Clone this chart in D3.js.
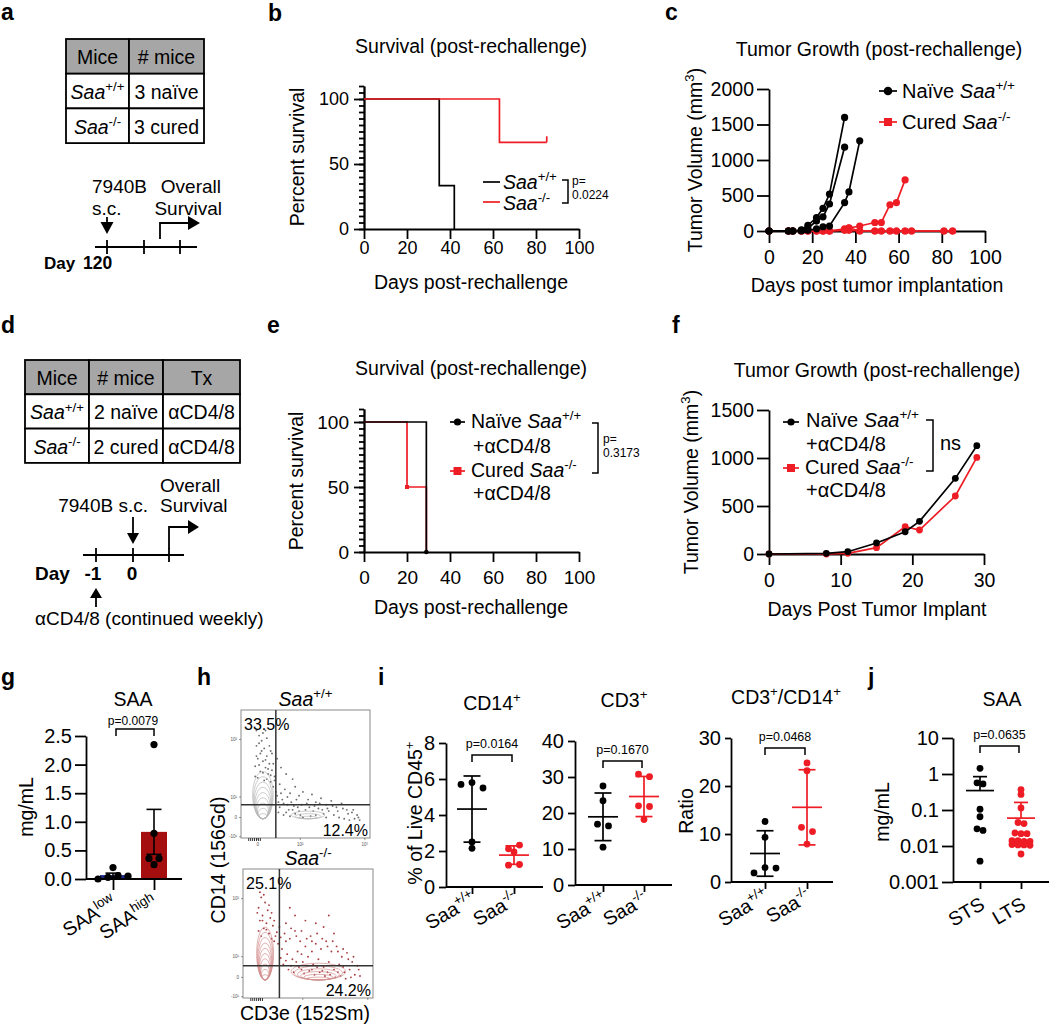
<!doctype html>
<html lang="en">
<head>
<meta charset="utf-8">
<title>SAA rechallenge figure</title>
<script src="https://cdn.jsdelivr.net/npm/d3@7"></script>
<style>
  body { margin: 0; background: #fff; }
  svg text { font-family: 'Liberation Sans', Arial, Helvetica, sans-serif; fill: #000; }
</style>
</head>
<body>
<svg id="fig" width="1050" height="1025"></svg>
<script>
// ---------------- data ----------------
const WT = [["Saa", "i"], ["+/+", "s"]];
const KO = [["Saa", "i"], ["-/-", "s"]];

// a, d: cohort tables
const tableA = [["Mice", "# mice"], [WT, "3 naïve"], [KO, "3 cured"]];
const tableD = [["Mice", "# mice", "Tx"], [WT, "2 naïve", "αCD4/8"], [KO, "2 cured", "αCD4/8"]];

// b: Kaplan-Meier steps (day, percent surviving)
const survDaysB_WT = [0, 35, 42];
const survPctB_WT = [100, 33.3, 0];
const survDaysB_KO = [0, 63, 85];
const survPctB_KO = [100, 66.7, 66.7];

// e
const survDaysE_WT = [0, 29];
const survPctE_WT = [100, 0];
const survDaysE_KO = [0, 20, 29];
const survPctE_KO = [100, 50, 0];

// c: individual tumour growth curves
const tumDaysC_WT = [
  [0, 9, 11, 15, 18, 22, 25, 28, 35],
  [0, 9, 11, 15, 18, 22, 25, 28, 35],
  [0, 9, 11, 15, 18, 22, 25, 28, 35, 37, 42]
];
const tumVolC_WT = [
  [0, 0, 0, 15, 80, 190, 320, 520, 1600],
  [0, 0, 0, 8, 40, 140, 200, 380, 1180],
  [0, 0, 0, 0, 10, 30, 60, 70, 400, 550, 1270]
];
const tumDaysC_KO = [
  [0, 9, 11, 15, 18, 22, 25, 28, 35, 37, 42, 49, 52, 56, 59, 63],
  [0, 9, 11, 15, 18, 22, 25, 28, 35, 37, 42, 49, 52, 56, 59, 63, 66, 81, 85],
  [0, 9, 11, 15, 18, 22, 25, 28, 35, 37, 42, 49, 52, 56, 59, 63, 66, 81, 85]
];
const tumVolC_KO = [
  [0, 0, 0, 0, 0, 0, 0, 0, 20, 40, 70, 120, 120, 370, 400, 720],
  [0, 0, 0, 0, 0, 0, 0, 0, 10, 10, 0, 0, 0, 0, 0, 0, 0, 0, 0],
  [0, 0, 0, 0, 0, 0, 0, 0, 30, 45, 0, 0, 0, 0, 0, 0, 0, 0, 0]
];

// f: mean tumour growth
const tumDaysF = [0, 8, 11, 15, 19, 21, 26, 29];
const tumVolF_WT = [0, 7, 24, 115, 232, 340, 788, 1128];
const tumVolF_KO = [0, 0, 7, 66, 284, 250, 604, 1006];

// g: serum SAA (mg/mL)
const gCats = ["low", "high"];
const saaLow = [0.2, 0.0, 0.03, 0.06, 0.05];
const saaHigh = [2.35, 0.8, 0.36, 0.36, 0.25];

// h: CyTOF plots, channel units 0-100 (biexponential display)
const hGates = [[27, 26], [28, 25]];
const hPercents = [["33.5%", "12.4%"], ["25.1%", "24.2%"]];
// populations drawn as nested contours: [panel, centre x, base y, half width, height, levels]
const hPops = [
  [0, 17, 15, 8, 37, 9],
  [0, 52, 15, 13, 6, 3],
  [1, 17, 14, 6.5, 41, 10],
  [1, 58, 14, 21, 13, 6]
];
const hEventsWT = [
  [14, 80], [16, 76], [12, 72], [18, 70], [15, 66], [20, 64], [13, 62], [17, 60], [22, 58], [11, 56],
  [19, 55], [24, 53], [15, 52], [21, 50], [26, 48], [13, 47], [18, 45], [23, 44], [25, 40], [27, 36],
  [30, 42], [34, 38], [38, 35], [42, 40], [45, 33], [48, 36], [52, 30], [55, 34], [58, 28], [62, 31],
  [66, 26], [70, 29], [74, 24], [78, 27], [82, 22], [86, 20], [90, 18], [32, 30], [36, 26], [40, 22],
  [44, 24], [50, 22], [56, 21], [60, 23], [64, 19], [68, 21], [72, 18], [76, 16], [80, 15], [84, 14],
  [29, 20], [33, 18], [38, 17], [46, 18], [54, 17], [88, 15], [92, 14], [35, 50], [40, 46], [31, 55],
  [28, 62], [15, 88], [19, 84], [23, 68], [30, 24], [35, 20], [42, 19], [48, 16], [58, 18], [66, 16],
  [12, 84], [17, 82], [20, 78], [14, 74], [22, 72], [16, 68], [24, 66], [12, 64], [19, 61], [25, 58],
  [14, 57], [21, 54], [17, 51], [23, 49], [11, 48], [26, 45], [20, 46], [28, 33], [29, 28], [31, 35],
  [33, 27], [36, 32], [39, 28], [41, 25], [43, 30], [47, 26], [51, 27], [53, 24], [57, 25], [61, 27],
  [63, 22], [67, 23], [71, 25], [75, 21], [79, 23], [83, 19], [87, 22], [91, 16], [37, 22], [45, 21]
];
const hEventsKO = [
  [14, 78], [17, 74], [12, 70], [19, 68], [15, 64], [21, 62], [13, 60], [18, 58], [23, 56], [16, 54],
  [20, 50], [25, 48], [12, 52], [24, 44], [28, 55], [32, 50], [36, 46], [40, 52], [44, 44], [48, 40],
  [52, 48], [56, 42], [60, 38], [64, 44], [68, 36], [72, 40], [76, 32], [80, 35], [84, 28], [88, 25],
  [30, 38], [34, 34], [38, 30], [42, 36], [46, 28], [50, 32], [54, 26], [58, 30], [62, 24], [66, 28],
  [70, 22], [74, 26], [78, 20], [82, 22], [86, 18], [90, 17], [31, 26], [35, 22], [39, 20], [43, 24],
  [47, 19], [51, 21], [55, 18], [59, 20], [63, 17], [67, 18], [71, 16], [75, 17], [79, 15], [48, 60],
  [56, 58], [62, 55], [40, 64], [70, 50], [36, 70], [66, 64], [27, 42], [33, 44], [45, 34], [53, 36],
  [13, 82], [16, 80], [20, 72], [11, 66], [22, 66], [15, 60], [24, 60], [18, 53], [26, 51], [14, 48],
  [22, 46], [29, 47], [33, 58], [37, 54], [41, 48], [45, 52], [49, 46], [53, 44], [57, 50], [61, 46],
  [65, 40], [69, 44], [73, 36], [77, 38], [81, 30], [85, 32], [89, 22], [29, 31], [33, 29], [37, 25],
  [41, 28], [45, 22], [49, 25], [53, 22], [57, 24], [61, 21], [65, 20], [73, 20], [77, 24], [83, 16]
];
const hTicksY = [[77, "10²"], [32, "10¹"], [16, "0"], [1, "-10¹"]];
const hTicksX = [[13, "0"], [46, "10²"], [96, "10³"]];

// i: % of live CD45+ and ratio
const iCats = ["+/+", "-/-"];
const cd14WT = [5.7, 5.8, 5.5, 2.5, 2.15];
const cd14KO = [2.12, 2.33, 1.95, 1.21, 1.25];
const cd3WT = [27.5, 23.4, 16.9, 16.4, 10.5];
const cd3KO = [30.8, 30.1, 22.0, 21.8, 18.2];
const ratioWT = [12.6, 9.3, 1.9, 3.0, 2.9];
const ratioKO = [24.8, 23.2, 11.4, 10.5, 7.9];

// j: serum SAA, short vs long term survivors
const jCats = ["STS", "LTS"];
const saaSTS = [1.44, 0.57, 0.53, 0.105, 0.065, 0.03, 0.027, 0.0038];
const saaLTS = [0.37, 0.27, 0.114, 0.045, 0.042, 0.023, 0.022, 0.022, 0.014, 0.014, 0.0135, 0.0135,
  0.011, 0.0107, 0.0107, 0.0105, 0.006];

// ---------------- helpers ----------------
const RED = "#ee1c24";
const svg = d3.select("#fig");

function rich(t, parts, size) {
  let shift = 0;
  for (const [s, k] of parts) {
    const sp = t.append("tspan").text(s);
    const sup = k.includes("s");
    const target = sup ? -0.4 * size : 0;
    if (target !== shift) { sp.attr("dy", target - shift); shift = target; }
    if (sup) sp.attr("font-size", size * 0.68);
    if (k.includes("i")) sp.attr("font-style", "italic");
  }
}
function txt(g, x, y, s, o = {}) {
  const size = o.size || 19;
  const t = g.append("text").attr("x", x).attr("y", y)
    .attr("font-size", size).attr("text-anchor", o.anchor || "start");
  if (o.bold) t.attr("font-weight", "bold");
  if (o.fill) t.style("fill", o.fill);
  if (o.rot) t.attr("transform", `rotate(${o.rot},${x},${y})`);
  if (Array.isArray(s)) rich(t, s, size); else t.text(s);
  return t;
}
function seg(g, x1, y1, x2, y2, w = 1.8, c = "#000") {
  return g.append("line").attr("x1", x1).attr("y1", y1).attr("x2", x2).attr("y2", y2)
    .attr("stroke", c).attr("stroke-width", w);
}
function tri(g, pts) { g.append("path").attr("d", "M" + pts.join("L") + "Z").attr("fill", "#000"); }
function arrowDown(g, x, y1, y2, hw, hl) {
  seg(g, x, y1, x, y2 - hl + 1);
  tri(g, [[x - hw, y2 - hl], [x + hw, y2 - hl], [x, y2]]);
}
function arrowUp(g, x, y1, y2, hw, hl) {
  seg(g, x, y1, x, y2 + hl - 1);
  tri(g, [[x - hw, y2 + hl], [x + hw, y2 + hl], [x, y2]]);
}
function bentArrow(g, x, y1, y2, x2, hw, hl) {
  g.append("path").attr("d", `M${x},${y1}V${y2}H${x2 - hl + 1}`)
    .attr("fill", "none").attr("stroke", "#000").attr("stroke-width", 1.8);
  tri(g, [[x2 - hl, y2 - hw], [x2 - hl, y2 + hw], [x2, y2]]);
}
function axis(g, gen, size) {
  g.call(gen);
  g.attr("font-family", null).attr("font-size", size);
  g.selectAll("path, line").attr("stroke", "#000").attr("stroke-width", 1.8);
  return g;
}
function bracket(g, x1, x2, y, leg) {
  g.append("path").attr("d", `M${x1},${y + leg}V${y}H${x2}V${y + leg}`)
    .attr("fill", "none").attr("stroke", "#000").attr("stroke-width", 1.5);
}
function sideBracket(g, x1, x2, y1, y2) {
  g.append("path").attr("d", `M${x1},${y1}H${x2}V${y2}H${x1}`)
    .attr("fill", "none").attr("stroke", "#000").attr("stroke-width", 1.5);
}
function table(g, x0, y0, colW, rowH, rows) {
  rows.forEach((row, r) => {
    let x = x0;
    row.forEach((cell, c) => {
      g.append("rect").attr("x", x).attr("y", y0 + r * rowH).attr("width", colW[c]).attr("height", rowH)
        .attr("fill", r === 0 ? "#a6a6a6" : "#fff").attr("stroke", "#000").attr("stroke-width", 1.8);
      txt(g, x + colW[c] / 2, y0 + r * rowH + rowH / 2 + 8, cell, { anchor: "middle", size: 19.5 });
      x += colW[c];
    });
  });
}
// dot plot column layout: points in a row are centred on the group
function swarm(vals, ypix, step, thresh) {
  const idx = vals.map((v, i) => i).sort((a, b) => ypix(vals[a]) - ypix(vals[b]));
  const out = new Array(vals.length);
  let row = [];
  const flush = () => {
    row.sort((a, b) => a - b).forEach((i, k) => out[i] = (k - (row.length - 1) / 2) * step);
    row = [];
  };
  idx.forEach(i => {
    if (row.length && Math.abs(ypix(vals[i]) - ypix(vals[row[0]])) > thresh) flush();
    row.push(i);
  });
  flush();
  return out;
}
function sem(v) { return d3.deviation(v) / Math.sqrt(v.length); }

// ---------------- panel letters ----------------
[["a", 1, 20], ["b", 268, 21], ["c", 665, 20], ["d", 1, 333], ["e", 267, 333], ["f", 672, 333],
 ["g", 1, 685], ["h", 197, 685], ["i", 378, 685], ["j", 868, 685]]
  .forEach(([l, x, y]) => txt(svg, x, y, l, { size: 23, bold: true }));

// ---------------- a ----------------
{
  const g = svg.append("g");
  table(g, 66, 39, [63, 75], 34.7, tableA);
  txt(g, 92, 193, "7940B");
  txt(g, 92, 215, "s.c.");
  txt(g, 221, 193, "Overall", { anchor: "end" });
  txt(g, 222, 215, "Survival", { anchor: "end" });
  arrowDown(g, 107, 217, 234, 6.5, 12);
  seg(g, 95, 247, 197, 247);
  [107, 144, 180].forEach(x => seg(g, x, 240, x, 254));
  bentArrow(g, 160, 239, 223, 200, 7, 12);
  txt(g, 44, 269, "Day", { bold: true, size: 17 });
  txt(g, 83, 269, "120", { bold: true, size: 17.5 });
}

// ---------------- d ----------------
{
  const g = svg.append("g");
  table(g, 25, 360, [64, 74, 77], 34.3, tableD);
  txt(g, 160, 492, "Overall");
  txt(g, 148, 512, "7940B s.c.", { anchor: "end" });
  txt(g, 160, 512, "Survival");
  arrowDown(g, 133, 517, 544, 6, 11);
  seg(g, 83, 555, 184, 555);
  [96, 133, 169].forEach(x => seg(g, x, 548, x, 562));
  bentArrow(g, 169, 549, 527, 199, 7, 11);
  txt(g, 35, 580, "Day", { bold: true });
  txt(g, 93, 580, "-1", { bold: true, anchor: "middle" });
  txt(g, 132, 580, "0", { bold: true, anchor: "middle" });
  arrowUp(g, 96, 607, 588, 6, 10);
  txt(g, 35, 625, "αCD4/8 (continued weekly)");
}

// ---------------- survival panels (b, e) ----------------
function survAxes(g, x, y, padX, size) {
  axis(g.append("g").attr("transform", `translate(${x(0)},0)`),
    d3.axisLeft(y).tickValues(d3.range(0, 111, 5)).tickSize(5).tickFormat("").tickSizeOuter(0), size);
  axis(g.append("g").attr("transform", `translate(${x(0)},0)`),
    d3.axisLeft(y).tickValues([0, 50, 100]).tickSize(10).tickPadding(5).tickSizeOuter(0), size);
  axis(g.append("g").attr("transform", `translate(0,${y(0)})`),
    d3.axisBottom(x).tickValues(d3.range(0, 101, 20)).tickSize(10).tickPadding(padX).tickSizeOuter(0), size);
}
function stepPath(g, x, y, days, pct, color) {
  const line = d3.line().x(d => x(d[0])).y(d => y(d[1])).curve(d3.curveStepAfter);
  g.append("path").datum(d3.zip(days, pct)).attr("d", line)
    .attr("fill", "none").attr("stroke", color).attr("stroke-width", 1.7);
}

{ // b
  const g = svg.append("g");
  const x = d3.scaleLinear([0, 100], [364, 579]);
  const y = d3.scaleLinear([0, 110], [229, 86]);
  txt(g, 471, 53, "Survival (post-rechallenge)", { anchor: "middle", size: 19.5 });
  survAxes(g, x, y, 2, 18);
  stepPath(g, x, y, survDaysB_WT, survPctB_WT, "#000");
  stepPath(g, x, y, survDaysB_KO, survPctB_KO, RED);
  const last = survDaysB_KO.length - 1;
  seg(g, x(survDaysB_KO[last]), y(survPctB_KO[last]), x(survDaysB_KO[last]), y(survPctB_KO[last]) - 6, 1.7, RED);
  txt(g, 471, 289, "Days post-rechallenge", { anchor: "middle", size: 19.5 });
  txt(g, 304, 157, "Percent survival", { anchor: "middle", size: 19.5, rot: -90 });
  seg(g, 483, 182, 500, 182, 1.7);
  seg(g, 483, 202, 500, 202, 1.7, RED);
  txt(g, 503, 189, WT, { size: 19.5 });
  txt(g, 503, 210, KO, { size: 19.5 });
  sideBracket(g, 562, 568, 180, 203);
  txt(g, 572, 185, "p=", { size: 12 });
  txt(g, 572, 199, "0.0224", { size: 12 });
}

{ // e
  const g = svg.append("g");
  const x = d3.scaleLinear([0, 100], [364, 579]);
  const y = d3.scaleLinear([0, 110], [552, 409]);
  txt(g, 471, 375, "Survival (post-rechallenge)", { anchor: "middle", size: 19.5 });
  survAxes(g, x, y, 9, 19);
  stepPath(g, x, y, survDaysE_KO, survPctE_KO, RED);
  stepPath(g, x, y, survDaysE_WT, survPctE_WT, "#000");
  g.append("rect").attr("x", x(survDaysE_KO[1]) - 2).attr("y", y(survPctE_KO[1]) - 2)
    .attr("width", 4).attr("height", 4).attr("fill", RED);
  g.append("circle").attr("cx", x(survDaysE_WT[1])).attr("cy", y(0)).attr("r", 2.3);
  txt(g, 471, 614, "Days post-rechallenge", { anchor: "middle", size: 19.5 });
  txt(g, 303, 481, "Percent survival", { anchor: "middle", size: 19.5, rot: -90 });
  seg(g, 450, 422, 465, 422, 1.7);
  g.append("circle").attr("cx", 457.5).attr("cy", 422).attr("r", 3.6);
  txt(g, 471, 428, [["Naïve ", ""], ...WT], { size: 19.5 });
  txt(g, 473, 453, "+αCD4/8", { size: 19.5 });
  seg(g, 450, 471, 465, 471, 1.7, RED);
  g.append("rect").attr("x", 453.5).attr("y", 467).attr("width", 8).attr("height", 8).attr("fill", RED);
  txt(g, 471, 477, [["Cured ", ""], ...KO], { size: 19.5 });
  txt(g, 473, 500, "+αCD4/8", { size: 19.5 });
  sideBracket(g, 592, 598, 423, 473);
  txt(g, 603, 443, "p=", { size: 12 });
  txt(g, 603, 457, "0.3173", { size: 12 });
}

// ---------------- tumour growth (c, f) ----------------
function growthLine(g, x, y, days, vols, color, r) {
  const pts = d3.zip(days, vols);
  g.append("path").datum(pts).attr("d", d3.line().x(d => x(d[0])).y(d => y(d[1])))
    .attr("fill", "none").attr("stroke", color).attr("stroke-width", 1.7);
  g.selectAll(null).data(pts).join("circle")
    .attr("cx", d => x(d[0])).attr("cy", d => y(d[1])).attr("r", r).attr("fill", color);
}
function volumeLabel(g, x, cy) {
  txt(g, x, cy, [["Tumor Volume (mm", ""], ["3", "s"], [")", ""]], { anchor: "middle", size: 19.5, rot: -90 });
}

{ // c
  const g = svg.append("g");
  const x = d3.scaleLinear([0, 100], [769, 985]);
  const y = d3.scaleLinear([0, 2000], [231, 89]);
  txt(g, 879, 56, "Tumor Growth (post-rechallenge)", { anchor: "middle", size: 19.5 });
  axis(g.append("g").attr("transform", `translate(${x(0)},0)`),
    d3.axisLeft(y).tickValues(d3.range(0, 2001, 500)).tickFormat(d3.format("d"))
      .tickSize(12).tickPadding(3).tickSizeOuter(0), 19.5);
  axis(g.append("g").attr("transform", `translate(0,${y(0)})`),
    d3.axisBottom(x).tickValues(d3.range(0, 101, 20)).tickSize(12).tickPadding(7).tickSizeOuter(0), 19.5);
  tumDaysC_KO.forEach((d, i) => growthLine(g, x, y, d, tumVolC_KO[i], RED, 3.6));
  tumDaysC_WT.forEach((d, i) => growthLine(g, x, y, d, tumVolC_WT[i], "#000", 3.6));
  txt(g, 877, 292, "Days post tumor implantation", { anchor: "middle", size: 19.5 });
  volumeLabel(g, 702, 160);
  seg(g, 879, 91, 897, 91, 1.7);
  g.append("circle").attr("cx", 888).attr("cy", 91).attr("r", 4.3);
  txt(g, 902, 98, [["Naïve ", ""], ...WT], { size: 20 });
  seg(g, 879, 122, 897, 122, 1.7, RED);
  g.append("rect").attr("x", 884).attr("y", 118).attr("width", 8).attr("height", 8).attr("fill", RED);
  txt(g, 902, 129, [["Cured ", ""], ...KO], { size: 20 });
}

{ // f
  const g = svg.append("g");
  const x = d3.scaleLinear([0, 30], [769, 984]);
  const y = d3.scaleLinear([0, 1500], [554, 410]);
  txt(g, 877, 377, "Tumor Growth (post-rechallenge)", { anchor: "middle", size: 19.5 });
  axis(g.append("g").attr("transform", `translate(${x(0)},0)`),
    d3.axisLeft(y).tickValues(d3.range(0, 1501, 500)).tickFormat(d3.format("d"))
      .tickSize(12).tickPadding(3).tickSizeOuter(0), 19.5);
  axis(g.append("g").attr("transform", `translate(0,${y(0)})`),
    d3.axisBottom(x).tickValues(d3.range(0, 31, 10)).tickSize(11).tickPadding(8).tickSizeOuter(0), 19.5);
  growthLine(g, x, y, tumDaysF, tumVolF_KO, RED, 3.4);
  growthLine(g, x, y, tumDaysF, tumVolF_WT, "#000", 3.4);
  txt(g, 877, 616, "Days Post Tumor Implant", { anchor: "middle", size: 19.5 });
  volumeLabel(g, 698, 482);
  seg(g, 783, 422, 799, 422, 1.7);
  g.append("circle").attr("cx", 791).attr("cy", 422).attr("r", 3.6);
  txt(g, 806, 427, [["Naïve ", ""], ...WT], { size: 20 });
  txt(g, 806, 451, "+αCD4/8", { size: 20 });
  seg(g, 783, 468, 799, 468, 1.7, RED);
  g.append("rect").attr("x", 787).attr("y", 464).attr("width", 8).attr("height", 8).attr("fill", RED);
  txt(g, 805, 474, [["Cured ", ""], ...KO], { size: 20 });
  txt(g, 806, 497, "+αCD4/8", { size: 20 });
  sideBracket(g, 926, 933, 420, 471);
  txt(g, 940, 450, "ns", { size: 20 });
}

// ---------------- g ----------------
{
  const g = svg.append("g");
  const y = d3.scaleLinear([0, 2.5], [879, 736]);
  const x = d3.scalePoint(gCats, [113, 154]);
  const groups = [saaLow, saaHigh];
  const fills = ["#1b2585", "#a50e0e"];
  txt(g, 133, 706, "SAA", { anchor: "middle", size: 19.5 });
  txt(g, 133, 725, "p=0.0079", { anchor: "middle", size: 12 });
  bracket(g, 116, 154, 729, 7);
  groups.forEach((v, i) => {
    const m = d3.mean(v);
    g.append("rect").attr("x", x(gCats[i]) - 13).attr("y", y(m)).attr("width", 26)
      .attr("height", y(0) - y(m)).attr("fill", fills[i]);
  });
  axis(g.append("g").attr("transform", "translate(86,0)"),
    d3.axisLeft(y).tickValues(d3.range(0, 2.51, 0.5)).tickFormat(d3.format(".1f"))
      .tickSize(11).tickPadding(3).tickSizeOuter(0), 20);
  seg(g, 86, y(0), 182, y(0));
  axis(g.append("g").attr("transform", `translate(0,${y(0)})`),
    d3.axisBottom(x).tickSize(11).tickFormat("").tickSizeOuter(0), 20).select(".domain").remove();
  groups.forEach((v, i) => {
    const cx = x(gCats[i]), m = d3.mean(v), e = sem(v);
    const hi = y(m + e), lo = y(Math.max(0, m - e));
    seg(g, cx, hi, cx, lo, 1.6);
    seg(g, cx - 7.5, hi, cx + 7.5, hi, 1.6);
    if (m - e > 0) seg(g, cx - 7.5, lo, cx + 7.5, lo, 1.6);
    const off = swarm(v, y, 10, 6);
    g.selectAll(null).data(v).join("circle")
      .attr("cx", (d, k) => cx + off[k]).attr("cy", d => y(d)).attr("r", 3.6).attr("fill", "#000");
  });
  txt(g, 33, 807, "mg/mL", { anchor: "middle", size: 19.5, rot: -90 });
  txt(g, x("low") + 5, 906, [["SAA", ""], ["low", "s"]], { anchor: "end", size: 19.5, rot: -32 });
  txt(g, x("high") + 5, 906, [["SAA", ""], ["high", "s"]], { anchor: "end", size: 19.5, rot: -32 });
}

// ---------------- h ----------------
{
  const g = svg.append("g");
  const boxes = [[241, 370, 710, 838], [243, 373, 869, 998]];
  const titles = [WT, KO];
  const dotCol = ["#6f6f6f", "#a83f42"];
  const conCol = ["#b8b8b8", "#d49090"];
  const events = [hEventsWT, hEventsKO];
  boxes.forEach(([l, r, t, b], p) => {
    const x = d3.scaleLinear([0, 100], [l, r]);
    const y = d3.scaleLinear([0, 100], [b, t]);
    txt(g, (l + r) / 2, t - 4, titles[p], { anchor: "middle", size: 19.5 });
    g.selectAll(null).data(events[p]).join("circle")
      .attr("cx", d => x(d[0])).attr("cy", d => y(d[1])).attr("r", 0.95).attr("fill", dotCol[p]);
    hPops.filter(d => d[0] === p).forEach(([, cx, base, rx, h, L]) => {
      d3.range(1, L + 1).forEach(k => {
        const s = k / L, ry = h * s / 2, rxx = rx * (0.3 + 0.7 * s);
        g.append("ellipse").attr("cx", x(cx)).attr("cy", y(base + ry))
          .attr("rx", x(rxx) - x(0)).attr("ry", y(0) - y(ry))
          .attr("fill", "none").attr("stroke", conCol[p]).attr("stroke-width", 0.7);
      });
    });
    g.append("rect").attr("x", l).attr("y", t).attr("width", r - l).attr("height", b - t)
      .attr("fill", "none").attr("stroke", "#8a8a8a").attr("stroke-width", 1);
    seg(g, x(hGates[p][0]), t, x(hGates[p][0]), b, 1.5, "#333");
    seg(g, l, y(hGates[p][1]), r, y(hGates[p][1]), 1.5, "#333");
    txt(g, l + 3, t + 20, hPercents[p][0], { size: 16 });
    txt(g, r - 2, b - 2, hPercents[p][1], { size: 16, anchor: "end" });
    hTicksY.forEach(([v, s]) => {
      seg(g, l - 2, y(v), l, y(v), 0.6, "#555");
      txt(g, l - 4, y(v) + 1.5, s, { size: 4.5, anchor: "end", fill: "#555" });
    });
    hTicksX.forEach(([v, s]) => {
      seg(g, x(v), b, x(v), b + 2, 0.6, "#555");
      if (p === 0) txt(g, x(v), b + 8, s, { size: 4.5, anchor: "middle", fill: "#555" });
    });
    d3.range(6, 16, 1.5).forEach(v => seg(g, x(v), b, x(v), b + 3, 1, "#333"));
  });
  txt(g, 225, 860, "CD14 (156Gd)", { anchor: "middle", size: 19.5, rot: -90 });
  txt(g, 305, 1020, "CD3e (152Sm)", { anchor: "middle", size: 19.5 });
}

// ---------------- i and j dot plots ----------------
function dotPanel(cfg) {
  const g = svg.append("g");
  const y = cfg.y;
  const x = d3.scalePoint(cfg.cats, cfg.gx);
  axis(g.append("g").attr("transform", `translate(${cfg.x0},0)`),
    d3.axisLeft(y).tickValues(cfg.ticks).tickFormat(cfg.fmt || d3.format("d"))
      .tickSize(cfg.tick).tickPadding(cfg.pad).tickSizeOuter(0), 20);
  const yb = y.range()[0];
  seg(g, cfg.x0, yb, cfg.x1, yb);
  axis(g.append("g").attr("transform", `translate(0,${yb})`),
    d3.axisBottom(x).tickSize(7).tickFormat("").tickSizeOuter(0), 20).select(".domain").remove();
  [cfg.a, cfg.b].forEach((v, i) => {
    const cx = x(cfg.cats[i]), col = i ? RED : "#000";
    const m = d3.mean(v), sd = d3.deviation(v);
    const off = swarm(v, y, cfg.step, cfg.thresh);
    g.selectAll(null).data(v).join("circle")
      .attr("cx", (d, k) => cx + off[k]).attr("cy", d => y(d)).attr("r", 3.4).attr("fill", col);
    seg(g, cx - cfg.mw, y(m), cx + cfg.mw, y(m), 1.7, col);
    const hi = y(m + sd);
    const lo = m - sd > y.domain()[0] ? y(m - sd) : y(m);
    seg(g, cx, hi, cx, lo, 1.7, col);
    seg(g, cx - cfg.cw, hi, cx + cfg.cw, hi, 1.7, col);
    if (m - sd > y.domain()[0]) seg(g, cx - cfg.cw, lo, cx + cfg.cw, lo, 1.7, col);
    txt(g, cx + cfg.lx, cfg.ly, cfg.labels[i], { anchor: "end", size: 19.5, rot: -30 });
  });
  txt(g, cfg.tx, cfg.ty, cfg.title, { anchor: "middle", size: 19.5 });
  txt(g, (cfg.gx[0] + cfg.gx[1]) / 2 - 1, cfg.py, cfg.p, { anchor: "middle", size: 12.5 });
  bracket(g, cfg.gx[0], cfg.gx[1] - 2, cfg.py + 7, 7);
  return g;
}
const iLab = [[["Saa", ""], ["+/+", "s"]], [["Saa", ""], ["-/-", "s"]]];
dotPanel({ y: d3.scaleLinear([0, 8], [887, 743]), cats: iCats, gx: [472, 514], x0: 446, x1: 543,
  ticks: d3.range(0, 9, 2), tick: 7, pad: 4, a: cd14WT, b: cd14KO, step: 11, thresh: 6, mw: 15, cw: 8.5,
  labels: iLab, lx: 5, ly: 903, title: [["CD14", ""], ["+", "s"]], tx: 492, ty: 710, p: "p=0.0164", py: 748 });
dotPanel({ y: d3.scaleLinear([0, 40], [885, 741]), cats: iCats, gx: [603, 644], x0: 575, x1: 672,
  ticks: d3.range(0, 41, 10), tick: 7, pad: 4, a: cd3WT, b: cd3KO, step: 11, thresh: 6, mw: 15, cw: 8.5,
  labels: iLab, lx: 5, ly: 903, title: [["CD3", ""], ["+", "s"]], tx: 624, ty: 707, p: "p=0.1670", py: 754 });
dotPanel({ y: d3.scaleLinear([0, 30], [882, 738]), cats: iCats, gx: [765, 807], x0: 731, x1: 833,
  ticks: d3.range(0, 31, 10), tick: 6, pad: 4, a: ratioWT, b: ratioKO, step: 11, thresh: 6, mw: 15, cw: 8.5,
  labels: iLab, lx: 5, ly: 900, title: [["CD3", ""], ["+", "s"], ["/CD14", ""], ["+", "s"]], tx: 786, ty: 704,
  p: "p=0.0468", py: 741 });
txt(svg, 422, 813, [["% of Live  CD45", ""], ["+", "s"]], { anchor: "middle", size: 19.5, rot: -90 });
txt(svg, 693, 811, "Ratio", { anchor: "middle", size: 19.5, rot: -90 });

dotPanel({ y: d3.scaleLog([0.001, 10], [882, 738]), cats: jCats, gx: [980, 1021], x0: 953, x1: 1049,
  ticks: [0.001, 0.01, 0.1, 1, 10], fmt: d => String(d), tick: 11, pad: 3, a: saaSTS, b: saaLTS,
  step: 6, thresh: 3, mw: 14, cw: 7, labels: [[["STS", ""]], [["LTS", ""]]], lx: 6, ly: 908,
  title: "SAA", tx: 1002, ty: 706, p: "p=0.0635", py: 739 });
txt(svg, 889, 812, "mg/mL", { anchor: "middle", size: 19.5, rot: -90 });
</script>
</body>
</html>
